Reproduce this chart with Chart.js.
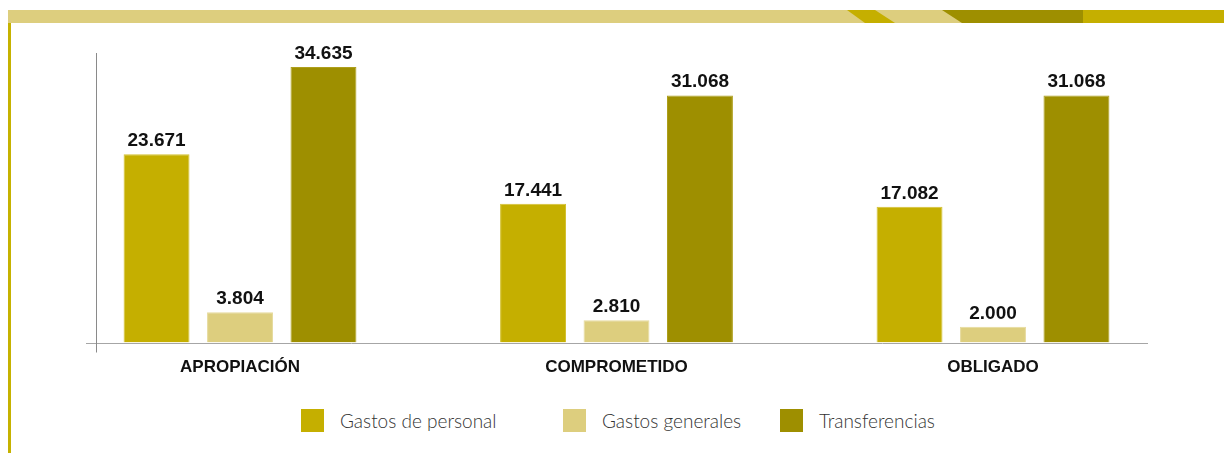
<!DOCTYPE html>
<html lang="es">
<head>
<meta charset="utf-8">
<title>Ejecución presupuestal</title>
<script src="https://cdn.jsdelivr.net/npm/chart.js@4.4.1/dist/chart.umd.min.js"></script>
<style>
  html, body { margin:0; padding:0; background:#fff; }
  body { width:1224px; height:453px; position:relative; overflow:hidden; }
  #band { position:absolute; left:0; top:0; }
  #side { position:absolute; left:8px; top:23px; width:3px; bottom:0; background:#C6B200; }
  #wrap { position:absolute; left:0; top:0; width:1224px; height:400px; }
  .item { position:absolute; top:409px; height:23px; display:flex; align-items:center; white-space:nowrap; }
  .sw { width:23px; height:23px; margin-right:16px; }
  .lbl { font:300 19px Lato, 'Open Sans', sans-serif; color:#333; }
</style>
</head>
<body>
<svg id="band" width="1224" height="24">
  <rect x="8" y="10" width="1216" height="13" fill="#DDCE7E"/>
  <polygon points="847,10 875,10 895,23 865,23" fill="#C5AF00"/>
  <polygon points="942,10 1083,10 1083,23 962,23" fill="#9E8F00"/>
  <rect x="1083" y="10" width="141" height="13" fill="#C5AF00"/>
</svg>
<div id="side"></div>
<div id="wrap"><canvas id="chart"></canvas></div>
<div id="legend"></div>

<script>
// ---------- datos ----------
const categories = ['APROPIACIÓN', 'COMPROMETIDO', 'OBLIGADO'];
const seriesNames = ['Gastos de personal', 'Gastos generales', 'Transferencias'];
const gastosPersonal = [23671, 17441, 17082];
const gastosGenerales = [3804, 2810, 2000];
const transferencias = [34635, 31068, 31068];

const colors = ['#C5AF00', '#DDCE7E', '#9E8F00'];
const borders = ['#D3C130', '#E6DA9C', '#AE9F1C'];
const legendLeft = [301, 563, 780];

// 23671 -> "23.671"
function fmt(v){ return String(v).replace(/\B(?=(\d{3})+(?!\d))/g, '.'); }

const valueLabels = {
  id: 'valueLabels',
  afterDatasetsDraw(chart){
    const ctx = chart.ctx;
    ctx.save();
    ctx.font = 'bold 19px "Liberation Sans", Arial, sans-serif';
    ctx.fillStyle = '#111';
    ctx.textAlign = 'center';
    ctx.textBaseline = 'alphabetic';
    chart.data.datasets.forEach((ds, di) => {
      chart.getDatasetMeta(di).data.forEach((bar, i) => {
        ctx.fillText(fmt(ds.data[i].y), bar.x, bar.y - 8);
      });
    });
    ctx.restore();
  }
};

// ejes grises: vertical a la izquierda y linea base en cero
const axisLines = {
  id: 'axisLines',
  beforeDatasetsDraw(chart){
    const { ctx, chartArea: a, scales: { y } } = chart;
    const y0 = Math.round(y.getPixelForValue(0)) + 0.5;
    const xl = Math.round(a.left) + 0.5;
    ctx.save();
    ctx.lineWidth = 1;
    ctx.strokeStyle = '#a6a6a6';
    ctx.beginPath();
    ctx.moveTo(a.left - 10, y0);
    ctx.lineTo(a.right, y0);
    ctx.stroke();
    ctx.strokeStyle = '#8a8a8a';
    ctx.beginPath();
    ctx.moveTo(xl, a.top);
    ctx.lineTo(xl, y0 + 9);
    ctx.stroke();
    ctx.restore();
  }
};

const series = [gastosPersonal, gastosGenerales, transferencias];

const chart = new Chart(document.getElementById('chart'), {
  type: 'bar',
  data: {
    datasets: series.map((vals, k) => ({
      label: seriesNames[k],
      data: vals.map((v, i) => ({ x: i, y: v })),
      backgroundColor: colors[k],
      borderColor: borders[k],
      borderWidth: 1,
      categoryPercentage: 0.665,
      barPercentage: 0.79
    }))
  },
  options: {
    responsive: true,
    maintainAspectRatio: false,
    animation: false,
    layout: { padding: { left: 96, right: 76, top: 53, bottom: 15 } },
    plugins: { legend: { display: false }, tooltip: { enabled: false } },
    scales: {
      x: {
        type: 'linear',
        offset: false,
        min: -0.3825,
        max: 2.4117,
        grid: { display: false },
        border: { display: false },
        afterBuildTicks: s => { s.ticks = categories.map((c, i) => ({ value: i })); },
        ticks: {
          padding: 7,
          maxRotation: 0,
          autoSkip: false,
          color: '#111',
          font: { family: '"Liberation Sans", Arial, sans-serif', size: 17, weight: 'bold' },
          callback: v => categories[Math.round(v)]
        }
      },
      y: {
        display: false,
        min: 0,
        max: 36400
      }
    }
  },
  plugins: [axisLines, valueLabels]
});

// leyenda
const legend = document.getElementById('legend');
chart.data.datasets.forEach((ds, k) => {
  const it = document.createElement('div');
  it.className = 'item';
  it.style.left = legendLeft[k] + 'px';
  it.innerHTML = '<span class="sw" style="background:' + ds.backgroundColor + '"></span><span class="lbl">' + ds.label + '</span>';
  legend.appendChild(it);
});
</script>
</body>
</html>
